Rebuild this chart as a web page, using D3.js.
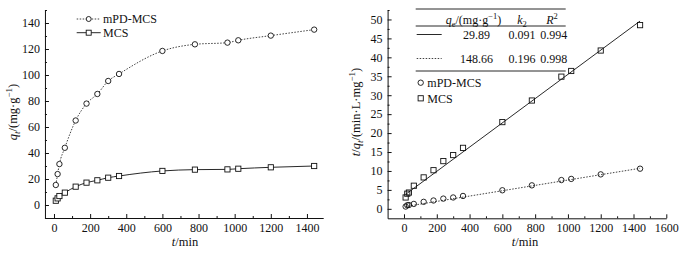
<!DOCTYPE html>
<html>
<head>
<meta charset="utf-8">
<script src="https://cdn.jsdelivr.net/npm/d3@7"></script>
<style>
  body { margin: 0; background: #fff; }
  svg { display: block; font-family: "Liberation Serif", "Times New Roman", serif; }
  .axis text { font-size: 12px; fill: #111; font-family: "Liberation Serif", serif; }
  .axis path, .axis line { stroke: #111; stroke-width: 1; }
</style>
</head>
<body>
<svg width="691" height="253"></svg>
<script>
// time points (min)
const times = [10, 20, 30, 60, 120, 180, 240, 300, 360, 600, 780, 960, 1020, 1200, 1440];

// left: adsorbed amount q_t (mg/g)
const qtMPD = [15.4, 23.8, 31.5, 44, 65, 78, 85.4, 95.4, 100.8, 118.5, 123.6, 124.9, 126.7, 130.3, 134.9];
const qtMCS = [3.3, 5.1, 6.9, 9.5, 14.1, 17.2, 19, 21, 22.3, 26.2, 27.2, 27.4, 27.9, 29, 30];

// right: t/q_t
const tqMPD = [0.6, 0.95, 1.0, 1.3, 1.85, 2.2, 2.7, 3.0, 3.4, 4.9, 6.2, 7.6, 7.9, 9.1, 10.6];
const tqMCS = [3.0, 4.0, 4.3, 6.1, 8.3, 10.2, 12.6, 14.2, 16.1, 22.9, 28.6, 34.9, 36.4, 41.8, 48.5];

// fitted lines (intercept, slope) and their t range
const fitMCS = [3.5, 0.032];
const fitMPD = [0.55, 0.00705];
const fitRange = [10, 1440];

// table of pseudo-second-order parameters
const tableQe = [29.89, 148.66];
const tableK2 = [0.091, 0.196];
const tableR2 = [0.994, 0.998];

const leftXTicks = [0, 200, 400, 600, 800, 1000, 1200, 1400];
const leftXMinor = [100, 300, 500, 700, 900, 1100, 1300];
const leftYTicks = [0, 20, 40, 60, 80, 100, 120, 140];
const leftYMinor = [-10, 10, 30, 50, 70, 90, 110, 130, 150];
const rightXTicks = [0, 200, 400, 600, 800, 1000, 1200, 1400, 1600];
const rightXMinor = [100, 300, 500, 700, 900, 1100, 1300, 1500];
const rightYTicks = [0, 5, 10, 15, 20, 25, 30, 35, 40, 45, 50];
const rightYMinor = [2.5, 7.5, 12.5, 17.5, 22.5, 27.5, 32.5, 37.5, 42.5, 47.5, 52.5];

const svg = d3.select("svg");
const ink = "#111";
const fmt = d3.format("d");

function drawAxes(x, y, xt, xm, yt, ym) {
  const h = y.range()[0];
  const l = x.range()[0];
  svg.append("g").attr("class", "axis").attr("transform", `translate(0,${h})`)
    .call(d3.axisBottom(x).tickValues(xt).tickFormat(fmt).tickSizeInner(-4).tickSizeOuter(0).tickPadding(5));
  svg.append("g").attr("class", "axis").attr("transform", `translate(0,${h})`)
    .call(d3.axisBottom(x).tickValues(xm).tickSize(-2).tickFormat(""))
    .select(".domain").remove();
  svg.append("g").attr("class", "axis").attr("transform", `translate(${l},0)`)
    .call(d3.axisLeft(y).tickValues(yt).tickFormat(fmt).tickSizeInner(-4).tickSizeOuter(0).tickPadding(5));
  svg.append("g").attr("class", "axis").attr("transform", `translate(${l},0)`)
    .call(d3.axisLeft(y).tickValues(ym).tickSize(-2).tickFormat(""))
    .select(".domain").remove();
}

function xLabel(cx, cy) {
  const t = svg.append("text").attr("x", cx).attr("y", cy)
    .attr("text-anchor", "middle").attr("font-size", 12.5).attr("fill", ink);
  t.append("tspan").attr("font-style", "italic").text("t");
  t.append("tspan").text("/min");
}

function circles(g, x, y, xs, ys, fill) {
  g.selectAll(null).data(xs).enter().append("circle")
    .attr("cx", d => x(d)).attr("cy", (d, i) => y(ys[i])).attr("r", 2.7)
    .attr("fill", fill).attr("stroke", ink).attr("stroke-width", 0.9);
}
function squares(g, x, y, xs, ys, fill) {
  g.selectAll(null).data(xs).enter().append("rect")
    .attr("x", d => x(d) - 2.6).attr("y", (d, i) => y(ys[i]) - 2.6)
    .attr("width", 5.2).attr("height", 5.2)
    .attr("fill", fill).attr("stroke", ink).attr("stroke-width", 0.9);
}

// ---------- left chart ----------
const xL = d3.scaleLinear().domain([-50, 1490]).range([44.96, 323.2]);
const yL = d3.scaleLinear().domain([-10, 150]).range([218, 10]);
drawAxes(xL, yL, leftXTicks, leftXMinor, leftYTicks, leftYMinor);

const lineL = d3.line().x(d => xL(d[0])).y(d => yL(d[1])).curve(d3.curveMonotoneX);
const gL = svg.append("g");
gL.append("path").attr("d", lineL(d3.zip(times, qtMPD)))
  .attr("fill", "none").attr("stroke", ink).attr("stroke-width", 0.8).attr("stroke-dasharray", "1.5,1.5");
gL.append("path").attr("d", lineL(d3.zip(times, qtMCS)))
  .attr("fill", "none").attr("stroke", ink).attr("stroke-width", 0.9);
circles(gL, xL, yL, times, qtMPD, "#fff");
squares(gL, xL, yL, times, qtMCS, "#fff");

// left legend
const legL = svg.append("g");
legL.append("line").attr("x1", 76.7).attr("x2", 100.7).attr("y1", 19).attr("y2", 19)
  .attr("stroke", ink).attr("stroke-width", 0.8).attr("stroke-dasharray", "1.5,1.5");
legL.append("circle").attr("cx", 88.7).attr("cy", 19).attr("r", 2.5)
  .attr("fill", "#fff").attr("stroke", ink).attr("stroke-width", 0.9);
legL.append("text").attr("x", 103).attr("y", 19).attr("dy", "0.35em")
  .attr("font-size", 12).attr("fill", ink).text("mPD-MCS");
legL.append("line").attr("x1", 76.7).attr("x2", 100.7).attr("y1", 32.7).attr("y2", 32.7)
  .attr("stroke", ink).attr("stroke-width", 0.9);
legL.append("rect").attr("x", 86.2).attr("y", 30.2).attr("width", 5).attr("height", 5)
  .attr("fill", "#fff").attr("stroke", ink).attr("stroke-width", 0.9);
legL.append("text").attr("x", 103).attr("y", 32.7).attr("dy", "0.35em")
  .attr("font-size", 12).attr("fill", ink).text("MCS");

// left y label
const ylL = svg.append("text").attr("transform", "translate(17,112) rotate(-90)")
  .attr("text-anchor", "middle").attr("font-size", 12.5).attr("fill", ink);
ylL.append("tspan").attr("font-style", "italic").text("q");
ylL.append("tspan").attr("font-style", "italic").attr("font-size", 9).attr("dy", 3).text("t");
ylL.append("tspan").attr("dy", -3).text("/(mg·g");
ylL.append("tspan").attr("font-size", 9).attr("dy", -5).text("−1");
ylL.append("tspan").attr("dy", 5).text(")");
xLabel(185, 246);

// ---------- right chart ----------
const xR = d3.scaleLinear().domain([-100, 1600]).range([387.6, 666.3]);
const yR = d3.scaleLinear().domain([-2.5, 52.5]).range([218.3, 10]);
drawAxes(xR, yR, rightXTicks, rightXMinor, rightYTicks, rightYMinor);

const gR = svg.append("g");
function fitPath(f, dash, w) {
  const pts = fitRange.map(t => [t, f[0] + f[1] * t]);
  gR.append("path").attr("d", d3.line().x(d => xR(d[0])).y(d => yR(d[1]))(pts))
    .attr("fill", "none").attr("stroke", ink).attr("stroke-width", w)
    .attr("stroke-dasharray", dash);
}
fitPath(fitMCS, null, 0.9);
fitPath(fitMPD, "1.5,1.5", 0.8);
circles(gR, xR, yR, times, tqMPD, "none");
squares(gR, xR, yR, times, tqMCS, "none");

// table
const tb = svg.append("g").attr("font-size", 12).attr("fill", ink);
[9, 26, 71].forEach(yy => {
  tb.append("line").attr("x1", 415.7).attr("x2", 565.7).attr("y1", yy).attr("y2", yy)
    .attr("stroke", ink).attr("stroke-width", 0.9);
});
const hq = tb.append("text").attr("x", 473.5).attr("y", 23.5).attr("text-anchor", "middle");
hq.append("tspan").attr("font-style", "italic").text("q");
hq.append("tspan").attr("font-size", 8.5).attr("dy", 3).text("e");
hq.append("tspan").attr("dy", -3).text("/(mg·g");
hq.append("tspan").attr("font-size", 8.5).attr("dy", -5).text("−1");
hq.append("tspan").attr("dy", 5).text(")");
const hk = tb.append("text").attr("x", 522).attr("y", 23.5).attr("text-anchor", "middle");
hk.append("tspan").attr("font-style", "italic").text("k");
hk.append("tspan").attr("font-size", 8.5).attr("dy", 3).text("2");
const hr = tb.append("text").attr("x", 552).attr("y", 23.5).attr("text-anchor", "middle");
hr.append("tspan").attr("font-style", "italic").text("R");
hr.append("tspan").attr("font-size", 8.5).attr("dy", -5).text("2");

const rowY = [34.5, 58.5];
rowY.forEach((yy, i) => {
  tb.append("line").attr("x1", 416.7).attr("x2", 441.7).attr("y1", yy).attr("y2", yy)
    .attr("stroke", ink).attr("stroke-width", i === 0 ? 0.9 : 0.8)
    .attr("stroke-dasharray", i === 0 ? null : "1.5,1.5");
  tb.append("text").attr("x", 476.5).attr("y", yy).attr("dy", "0.35em")
    .attr("text-anchor", "middle").text(tableQe[i].toFixed(2));
  tb.append("text").attr("x", 522).attr("y", yy).attr("dy", "0.35em")
    .attr("text-anchor", "middle").text(tableK2[i].toFixed(3));
  tb.append("text").attr("x", 553.7).attr("y", yy).attr("dy", "0.35em")
    .attr("text-anchor", "middle").text(tableR2[i].toFixed(3));
});

// right legend
const legR = svg.append("g");
legR.append("circle").attr("cx", 420.7).attr("cy", 82.7).attr("r", 2.7)
  .attr("fill", "none").attr("stroke", ink).attr("stroke-width", 0.9);
legR.append("text").attr("x", 427.3).attr("y", 82.7).attr("dy", "0.35em")
  .attr("font-size", 12).attr("fill", ink).text("mPD-MCS");
legR.append("rect").attr("x", 418.1).attr("y", 95.7).attr("width", 5.2).attr("height", 5.2)
  .attr("fill", "none").attr("stroke", ink).attr("stroke-width", 0.9);
legR.append("text").attr("x", 427.3).attr("y", 98.3).attr("dy", "0.35em")
  .attr("font-size", 12).attr("fill", ink).text("MCS");

// right y label
const ylR = svg.append("text").attr("transform", "translate(360,112) rotate(-90)")
  .attr("text-anchor", "middle").attr("font-size", 12.5).attr("fill", ink);
ylR.append("tspan").attr("font-style", "italic").text("t");
ylR.append("tspan").text("/");
ylR.append("tspan").attr("font-style", "italic").text("q");
ylR.append("tspan").attr("font-style", "italic").attr("font-size", 9).attr("dy", 3).text("t");
ylR.append("tspan").attr("dy", -3).text("/(min·L·mg");
ylR.append("tspan").attr("font-size", 9).attr("dy", -5).text("−1");
ylR.append("tspan").attr("dy", 5).text(")");
xLabel(525, 246);
</script>
</body>
</html>
